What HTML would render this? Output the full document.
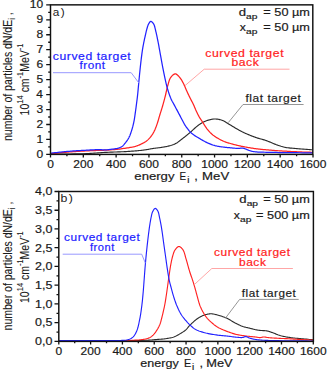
<!DOCTYPE html><html><head><meta charset="utf-8"><style>html,body{margin:0;padding:0;background:#fff;width:329px;height:371px;overflow:hidden}svg{display:block;font-family:"Liberation Sans",sans-serif}</style></head><body><svg width="329" height="371" viewBox="0 0 329 371" font-family="Liberation Sans, sans-serif"><rect width="329" height="371" fill="#fff"/><defs><clipPath id="ca"><rect x="50.5" y="4.85" width="262.3" height="149.55"/></clipPath><clipPath id="cb"><rect x="58.8" y="191.5" width="254.59999999999997" height="149.89999999999998"/></clipPath></defs><g clip-path="url(#ca)"><path d="M50.80,154.20 L51.53,154.19 L53.56,154.18 L56.63,154.15 L60.50,154.11 L64.92,154.05 L69.63,153.99 L74.40,153.91 L78.96,153.82 L83.08,153.72 L86.50,153.60 L88.60,153.50 L90.59,153.39 L92.50,153.27 L94.34,153.14 L96.14,153.01 L97.90,152.88 L99.65,152.74 L101.41,152.62 L103.18,152.50 L105.00,152.40 L106.84,152.31 L108.71,152.23 L110.58,152.16 L112.46,152.10 L114.34,152.04 L116.19,151.98 L118.01,151.92 L119.80,151.85 L121.53,151.78 L123.20,151.70 L124.53,151.63 L125.82,151.56 L127.09,151.49 L128.33,151.41 L129.54,151.33 L130.74,151.25 L131.93,151.17 L133.09,151.09 L134.25,150.99 L135.40,150.90 L136.41,150.81 L137.41,150.73 L138.39,150.64 L139.37,150.55 L140.33,150.45 L141.28,150.35 L142.22,150.25 L143.16,150.14 L144.08,150.02 L145.00,149.90 L145.83,149.78 L146.66,149.64 L147.47,149.50 L148.28,149.35 L149.08,149.20 L149.87,149.05 L150.66,148.90 L151.44,148.76 L152.22,148.62 L153.00,148.50 L153.72,148.40 L154.42,148.30 L155.12,148.21 L155.82,148.13 L156.51,148.05 L157.20,147.97 L157.89,147.88 L158.59,147.80 L159.29,147.70 L160.00,147.60 L160.75,147.49 L161.50,147.38 L162.26,147.27 L163.03,147.16 L163.79,147.04 L164.56,146.92 L165.32,146.79 L166.08,146.64 L166.84,146.48 L167.60,146.30 L168.37,146.11 L169.14,145.91 L169.91,145.71 L170.68,145.50 L171.44,145.27 L172.21,145.03 L172.96,144.76 L173.72,144.47 L174.46,144.15 L175.20,143.80 L175.99,143.38 L176.76,142.91 L177.53,142.41 L178.29,141.87 L179.05,141.32 L179.80,140.74 L180.55,140.16 L181.30,139.57 L182.05,138.98 L182.80,138.40 L183.57,137.81 L184.33,137.21 L185.10,136.60 L185.86,135.99 L186.62,135.37 L187.38,134.74 L188.14,134.11 L188.89,133.48 L189.65,132.84 L190.40,132.20 L191.17,131.54 L191.93,130.85 L192.70,130.14 L193.47,129.43 L194.23,128.73 L194.99,128.03 L195.75,127.35 L196.51,126.69 L197.26,126.08 L198.00,125.50 L198.62,125.04 L199.23,124.60 L199.84,124.18 L200.45,123.78 L201.05,123.39 L201.66,123.02 L202.26,122.66 L202.87,122.32 L203.48,122.00 L204.10,121.70 L204.68,121.43 L205.28,121.18 L205.88,120.95 L206.48,120.73 L207.08,120.53 L207.68,120.34 L208.27,120.16 L208.86,119.99 L209.44,119.84 L210.00,119.70 L210.47,119.59 L210.91,119.48 L211.35,119.38 L211.78,119.28 L212.21,119.20 L212.64,119.13 L213.08,119.08 L213.54,119.03 L214.01,119.01 L214.50,119.00 L215.17,119.01 L215.88,119.05 L216.61,119.11 L217.37,119.19 L218.13,119.30 L218.91,119.43 L219.68,119.59 L220.44,119.77 L221.18,119.97 L221.90,120.20 L222.60,120.46 L223.27,120.76 L223.93,121.10 L224.59,121.45 L225.23,121.83 L225.88,122.23 L226.54,122.64 L227.21,123.06 L227.89,123.48 L228.60,123.90 L229.48,124.42 L230.40,124.98 L231.34,125.55 L232.29,126.15 L233.26,126.76 L234.23,127.36 L235.19,127.95 L236.15,128.53 L237.09,129.08 L238.00,129.60 L238.78,130.03 L239.54,130.44 L240.29,130.83 L241.03,131.21 L241.76,131.59 L242.50,131.95 L243.25,132.31 L244.01,132.67 L244.79,133.03 L245.60,133.40 L246.54,133.82 L247.49,134.23 L248.47,134.65 L249.47,135.06 L250.47,135.47 L251.49,135.88 L252.51,136.27 L253.54,136.66 L254.57,137.04 L255.60,137.40 L256.65,137.75 L257.71,138.08 L258.78,138.39 L259.85,138.69 L260.93,138.99 L262.01,139.29 L263.09,139.59 L264.17,139.91 L265.24,140.24 L266.30,140.60 L267.37,140.99 L268.45,141.42 L269.53,141.86 L270.60,142.32 L271.68,142.78 L272.74,143.24 L273.80,143.69 L274.85,144.12 L275.88,144.53 L276.90,144.90 L277.77,145.20 L278.62,145.50 L279.45,145.78 L280.26,146.05 L281.08,146.31 L281.90,146.55 L282.73,146.78 L283.59,147.00 L284.48,147.21 L285.40,147.40 L286.56,147.61 L287.77,147.78 L289.02,147.93 L290.30,148.07 L291.59,148.18 L292.91,148.29 L294.24,148.39 L295.56,148.49 L296.89,148.59 L298.20,148.70 L299.68,148.83 L301.37,148.97 L303.17,149.12 L305.01,149.26 L306.79,149.40 L308.44,149.53 L309.87,149.64 L311.00,149.72 L311.74,149.78 L312.00,149.80" fill="none" stroke="#2a2a2a" stroke-width="1.15" stroke-linejoin="round" stroke-linecap="round"/><path d="M50.80,153.80 L51.02,153.78 L51.62,153.71 L52.53,153.61 L53.70,153.48 L55.05,153.34 L56.52,153.18 L58.04,153.02 L59.53,152.86 L60.94,152.72 L62.20,152.60 L63.39,152.49 L64.60,152.38 L65.80,152.27 L67.01,152.17 L68.22,152.07 L69.44,151.97 L70.65,151.87 L71.87,151.78 L73.09,151.69 L74.30,151.60 L75.52,151.52 L76.74,151.44 L77.96,151.36 L79.18,151.29 L80.40,151.22 L81.62,151.15 L82.84,151.09 L84.06,151.02 L85.28,150.96 L86.50,150.90 L87.74,150.84 L89.00,150.78 L90.29,150.73 L91.57,150.67 L92.85,150.62 L94.11,150.57 L95.33,150.52 L96.52,150.48 L97.64,150.44 L98.70,150.40 L99.40,150.38 L100.06,150.36 L100.68,150.34 L101.27,150.33 L101.85,150.31 L102.43,150.30 L103.02,150.28 L103.64,150.26 L104.30,150.23 L105.00,150.20 L106.06,150.14 L107.19,150.08 L108.37,150.01 L109.60,149.93 L110.86,149.85 L112.14,149.75 L113.42,149.65 L114.70,149.54 L115.97,149.43 L117.20,149.30 L118.43,149.16 L119.70,149.01 L120.98,148.84 L122.26,148.67 L123.54,148.49 L124.79,148.31 L126.01,148.13 L127.17,147.94 L128.27,147.77 L129.30,147.60 L129.96,147.49 L130.59,147.39 L131.18,147.29 L131.76,147.20 L132.32,147.10 L132.86,147.00 L133.39,146.89 L133.93,146.78 L134.46,146.65 L135.00,146.50 L135.52,146.35 L136.02,146.19 L136.52,146.02 L137.01,145.85 L137.50,145.67 L137.99,145.48 L138.48,145.27 L138.98,145.06 L139.48,144.84 L140.00,144.60 L140.63,144.31 L141.28,144.00 L141.95,143.68 L142.63,143.34 L143.31,142.99 L143.98,142.63 L144.64,142.24 L145.29,141.85 L145.91,141.43 L146.50,141.00 L147.05,140.56 L147.58,140.11 L148.09,139.64 L148.59,139.15 L149.08,138.64 L149.55,138.13 L150.01,137.61 L150.45,137.07 L150.88,136.54 L151.30,136.00 L151.69,135.47 L152.06,134.94 L152.41,134.41 L152.75,133.86 L153.08,133.31 L153.39,132.75 L153.70,132.18 L154.01,131.60 L154.30,131.00 L154.60,130.40 L154.92,129.72 L155.22,129.03 L155.52,128.31 L155.80,127.59 L156.08,126.86 L156.36,126.11 L156.62,125.36 L156.88,124.61 L157.14,123.86 L157.40,123.10 L157.66,122.31 L157.91,121.51 L158.15,120.71 L158.39,119.89 L158.63,119.08 L158.86,118.26 L159.09,117.44 L159.32,116.62 L159.56,115.81 L159.80,115.00 L160.05,114.20 L160.29,113.42 L160.54,112.64 L160.79,111.86 L161.04,111.08 L161.29,110.29 L161.54,109.49 L161.79,108.68 L162.05,107.85 L162.30,107.00 L162.60,105.97 L162.90,104.91 L163.21,103.81 L163.52,102.70 L163.83,101.58 L164.14,100.44 L164.44,99.31 L164.73,98.19 L165.02,97.08 L165.30,96.00 L165.55,95.00 L165.78,94.00 L165.99,93.00 L166.21,92.01 L166.42,91.03 L166.63,90.05 L166.85,89.08 L167.08,88.11 L167.33,87.15 L167.60,86.20 L167.87,85.26 L168.13,84.30 L168.40,83.33 L168.67,82.35 L168.95,81.40 L169.26,80.47 L169.59,79.58 L169.95,78.75 L170.36,77.98 L170.80,77.30 L171.18,76.81 L171.59,76.32 L172.02,75.84 L172.48,75.39 L172.95,74.98 L173.43,74.62 L173.90,74.32 L174.38,74.09 L174.85,73.95 L175.30,73.90 L175.74,73.96 L176.18,74.12 L176.63,74.38 L177.08,74.70 L177.52,75.08 L177.96,75.50 L178.39,75.95 L178.81,76.41 L179.21,76.86 L179.60,77.30 L180.01,77.78 L180.40,78.29 L180.78,78.82 L181.15,79.37 L181.50,79.94 L181.85,80.53 L182.19,81.13 L182.52,81.74 L182.86,82.37 L183.20,83.00 L183.59,83.76 L183.97,84.56 L184.35,85.38 L184.72,86.23 L185.09,87.09 L185.45,87.95 L185.81,88.81 L186.18,89.66 L186.54,90.49 L186.90,91.30 L187.23,92.02 L187.56,92.73 L187.90,93.43 L188.22,94.13 L188.55,94.82 L188.88,95.50 L189.21,96.18 L189.54,96.86 L189.87,97.53 L190.20,98.20 L190.52,98.84 L190.85,99.47 L191.18,100.09 L191.51,100.72 L191.84,101.34 L192.16,101.95 L192.49,102.57 L192.80,103.18 L193.11,103.79 L193.40,104.40 L193.66,104.97 L193.91,105.53 L194.15,106.08 L194.38,106.64 L194.60,107.19 L194.83,107.74 L195.06,108.30 L195.30,108.86 L195.54,109.43 L195.80,110.00 L196.09,110.64 L196.39,111.28 L196.69,111.94 L197.00,112.59 L197.32,113.26 L197.64,113.92 L197.97,114.57 L198.31,115.23 L198.65,115.87 L199.00,116.50 L199.35,117.11 L199.72,117.71 L200.09,118.31 L200.47,118.90 L200.86,119.48 L201.25,120.06 L201.64,120.65 L202.03,121.23 L202.42,121.81 L202.80,122.40 L203.18,122.99 L203.55,123.59 L203.92,124.20 L204.29,124.80 L204.66,125.40 L205.03,126.00 L205.41,126.59 L205.80,127.17 L206.19,127.74 L206.60,128.30 L207.00,128.83 L207.42,129.35 L207.84,129.87 L208.26,130.38 L208.69,130.88 L209.13,131.37 L209.57,131.85 L210.01,132.32 L210.46,132.77 L210.90,133.20 L211.29,133.57 L211.68,133.93 L212.06,134.26 L212.45,134.59 L212.83,134.91 L213.23,135.23 L213.64,135.54 L214.07,135.85 L214.52,136.17 L215.00,136.50 L215.67,136.94 L216.38,137.40 L217.13,137.87 L217.91,138.33 L218.71,138.80 L219.53,139.26 L220.36,139.70 L221.18,140.13 L222.00,140.53 L222.80,140.90 L223.55,141.22 L224.31,141.53 L225.06,141.81 L225.82,142.08 L226.58,142.33 L227.34,142.58 L228.11,142.81 L228.87,143.04 L229.64,143.27 L230.40,143.50 L231.16,143.73 L231.92,143.94 L232.68,144.16 L233.44,144.36 L234.20,144.56 L234.96,144.76 L235.73,144.95 L236.49,145.14 L237.24,145.32 L238.00,145.50 L238.73,145.67 L239.45,145.83 L240.16,145.98 L240.87,146.13 L241.58,146.28 L242.29,146.43 L243.02,146.57 L243.76,146.71 L244.52,146.85 L245.30,147.00 L246.26,147.18 L247.24,147.36 L248.25,147.54 L249.28,147.72 L250.32,147.89 L251.38,148.07 L252.44,148.24 L253.50,148.40 L254.55,148.56 L255.60,148.70 L256.66,148.84 L257.73,148.96 L258.81,149.08 L259.89,149.20 L260.97,149.31 L262.05,149.41 L263.12,149.51 L264.19,149.61 L265.25,149.70 L266.30,149.80 L267.28,149.89 L268.26,149.98 L269.22,150.06 L270.17,150.14 L271.12,150.22 L272.08,150.30 L273.04,150.38 L274.01,150.45 L275.00,150.53 L276.00,150.60 L277.12,150.68 L278.25,150.75 L279.39,150.83 L280.55,150.90 L281.71,150.97 L282.88,151.04 L284.06,151.10 L285.24,151.17 L286.42,151.24 L287.60,151.30 L288.82,151.37 L290.06,151.43 L291.30,151.50 L292.54,151.56 L293.79,151.62 L295.03,151.68 L296.28,151.74 L297.53,151.79 L298.77,151.85 L300.00,151.90 L301.32,151.95 L302.80,152.00 L304.37,152.06 L305.97,152.11 L307.51,152.16 L308.94,152.21 L310.17,152.24 L311.14,152.27 L311.77,152.29 L312.00,152.30" fill="none" stroke="#ff2222" stroke-width="1.25" stroke-linejoin="round" stroke-linecap="round"/><path d="M50.80,153.20 L51.02,153.17 L51.62,153.10 L52.53,152.99 L53.70,152.85 L55.05,152.69 L56.52,152.52 L58.04,152.35 L59.53,152.18 L60.94,152.03 L62.20,151.90 L63.39,151.78 L64.59,151.67 L65.80,151.57 L67.01,151.46 L68.22,151.36 L69.44,151.26 L70.65,151.17 L71.87,151.08 L73.09,150.99 L74.30,150.90 L75.52,150.82 L76.74,150.74 L77.96,150.66 L79.18,150.59 L80.40,150.52 L81.62,150.46 L82.84,150.39 L84.06,150.33 L85.28,150.26 L86.50,150.20 L87.74,150.13 L89.00,150.05 L90.29,149.98 L91.57,149.90 L92.85,149.82 L94.11,149.75 L95.33,149.69 L96.52,149.64 L97.64,149.61 L98.70,149.60 L99.41,149.61 L100.09,149.64 L100.75,149.67 L101.37,149.72 L101.99,149.77 L102.59,149.82 L103.18,149.86 L103.78,149.89 L104.38,149.90 L105.00,149.90 L105.61,149.88 L106.22,149.84 L106.82,149.80 L107.42,149.75 L108.02,149.68 L108.63,149.62 L109.24,149.54 L109.85,149.46 L110.47,149.38 L111.10,149.30 L111.82,149.21 L112.56,149.12 L113.32,149.03 L114.09,148.93 L114.87,148.83 L115.63,148.71 L116.37,148.58 L117.09,148.44 L117.77,148.28 L118.40,148.10 L118.85,147.95 L119.29,147.79 L119.71,147.63 L120.12,147.46 L120.51,147.28 L120.89,147.08 L121.26,146.88 L121.61,146.67 L121.96,146.44 L122.30,146.20 L122.61,145.96 L122.90,145.71 L123.18,145.44 L123.44,145.17 L123.70,144.88 L123.96,144.59 L124.21,144.28 L124.46,143.97 L124.73,143.64 L125.00,143.30 L125.36,142.85 L125.74,142.38 L126.12,141.88 L126.51,141.37 L126.90,140.84 L127.28,140.30 L127.66,139.74 L128.02,139.17 L128.37,138.59 L128.70,138.00 L129.04,137.33 L129.37,136.64 L129.69,135.92 L129.99,135.20 L130.27,134.45 L130.55,133.70 L130.82,132.93 L131.09,132.16 L131.35,131.38 L131.60,130.60 L131.87,129.75 L132.13,128.88 L132.38,128.00 L132.62,127.11 L132.86,126.22 L133.08,125.31 L133.30,124.41 L133.51,123.50 L133.71,122.60 L133.90,121.70 L134.08,120.81 L134.24,119.93 L134.39,119.04 L134.53,118.15 L134.67,117.26 L134.80,116.37 L134.92,115.47 L135.05,114.58 L135.17,113.69 L135.30,112.80 L135.43,111.91 L135.55,111.02 L135.68,110.13 L135.80,109.24 L135.92,108.35 L136.04,107.46 L136.15,106.57 L136.27,105.68 L136.38,104.79 L136.50,103.90 L136.61,103.01 L136.73,102.13 L136.84,101.25 L136.96,100.38 L137.07,99.50 L137.18,98.61 L137.29,97.73 L137.39,96.83 L137.50,95.92 L137.60,95.00 L137.71,93.99 L137.81,92.97 L137.91,91.94 L138.01,90.91 L138.11,89.86 L138.20,88.81 L138.30,87.74 L138.40,86.67 L138.50,85.59 L138.60,84.50 L138.72,83.29 L138.83,82.06 L138.95,80.80 L139.07,79.54 L139.19,78.27 L139.31,76.99 L139.43,75.73 L139.55,74.47 L139.68,73.22 L139.80,72.00 L139.92,70.87 L140.03,69.75 L140.15,68.63 L140.27,67.52 L140.39,66.42 L140.50,65.33 L140.63,64.24 L140.75,63.15 L140.87,62.08 L141.00,61.00 L141.12,59.97 L141.25,58.95 L141.37,57.92 L141.50,56.89 L141.63,55.88 L141.76,54.87 L141.89,53.88 L142.02,52.90 L142.16,51.94 L142.30,51.00 L142.42,50.21 L142.54,49.43 L142.67,48.68 L142.79,47.93 L142.92,47.19 L143.05,46.46 L143.18,45.73 L143.32,45.00 L143.46,44.25 L143.60,43.50 L143.75,42.71 L143.92,41.91 L144.08,41.10 L144.25,40.29 L144.42,39.48 L144.59,38.67 L144.77,37.87 L144.95,37.07 L145.12,36.28 L145.30,35.50 L145.46,34.77 L145.63,34.04 L145.79,33.31 L145.96,32.59 L146.13,31.87 L146.29,31.16 L146.47,30.47 L146.64,29.79 L146.82,29.13 L147.00,28.50 L147.15,28.00 L147.29,27.51 L147.43,27.02 L147.57,26.55 L147.72,26.09 L147.87,25.64 L148.03,25.20 L148.21,24.78 L148.39,24.38 L148.60,24.00 L148.79,23.67 L148.98,23.33 L149.19,22.99 L149.40,22.65 L149.62,22.33 L149.85,22.04 L150.08,21.79 L150.32,21.59 L150.56,21.46 L150.80,21.40 L151.06,21.42 L151.34,21.52 L151.64,21.69 L151.93,21.91 L152.23,22.18 L152.53,22.49 L152.82,22.82 L153.10,23.17 L153.36,23.54 L153.60,23.90 L153.91,24.45 L154.18,25.08 L154.43,25.77 L154.65,26.50 L154.86,27.28 L155.05,28.08 L155.24,28.89 L155.42,29.70 L155.61,30.51 L155.80,31.30 L156.01,32.13 L156.21,32.95 L156.40,33.78 L156.58,34.61 L156.77,35.45 L156.95,36.31 L157.13,37.19 L157.31,38.09 L157.50,39.03 L157.70,40.00 L157.97,41.34 L158.24,42.75 L158.51,44.22 L158.80,45.74 L159.08,47.29 L159.36,48.86 L159.65,50.44 L159.93,52.01 L160.22,53.57 L160.50,55.10 L160.78,56.61 L161.05,58.11 L161.32,59.60 L161.58,61.10 L161.85,62.59 L162.13,64.10 L162.41,65.61 L162.69,67.12 L162.99,68.65 L163.30,70.20 L163.64,71.89 L163.99,73.62 L164.35,75.37 L164.72,77.15 L165.09,78.92 L165.48,80.68 L165.87,82.41 L166.27,84.10 L166.68,85.74 L167.10,87.30 L167.45,88.55 L167.81,89.77 L168.17,90.97 L168.54,92.15 L168.91,93.30 L169.29,94.42 L169.68,95.51 L170.08,96.57 L170.48,97.60 L170.90,98.60 L171.25,99.38 L171.60,100.11 L171.95,100.81 L172.31,101.49 L172.68,102.15 L173.05,102.81 L173.43,103.48 L173.81,104.16 L174.20,104.86 L174.60,105.60 L175.08,106.51 L175.58,107.46 L176.09,108.42 L176.61,109.40 L177.14,110.40 L177.68,111.41 L178.21,112.41 L178.74,113.42 L179.28,114.42 L179.80,115.40 L180.32,116.39 L180.86,117.42 L181.40,118.46 L181.94,119.51 L182.48,120.55 L183.01,121.56 L183.53,122.54 L184.04,123.46 L184.53,124.32 L185.00,125.10 L185.29,125.56 L185.57,125.99 L185.84,126.40 L186.11,126.78 L186.37,127.15 L186.63,127.51 L186.90,127.85 L187.16,128.20 L187.43,128.55 L187.70,128.90 L187.96,129.24 L188.22,129.57 L188.48,129.90 L188.75,130.23 L189.01,130.56 L189.28,130.87 L189.55,131.19 L189.83,131.50 L190.11,131.80 L190.40,132.10 L190.70,132.39 L191.00,132.68 L191.30,132.95 L191.61,133.23 L191.93,133.50 L192.25,133.76 L192.57,134.02 L192.91,134.28 L193.25,134.54 L193.60,134.80 L193.99,135.08 L194.40,135.36 L194.81,135.63 L195.24,135.89 L195.67,136.16 L196.10,136.42 L196.55,136.69 L196.99,136.95 L197.44,137.22 L197.90,137.50 L198.41,137.81 L198.94,138.13 L199.47,138.46 L200.01,138.79 L200.55,139.12 L201.10,139.44 L201.65,139.77 L202.20,140.09 L202.75,140.40 L203.30,140.70 L203.83,140.99 L204.36,141.28 L204.89,141.56 L205.42,141.84 L205.96,142.11 L206.49,142.38 L207.03,142.65 L207.58,142.90 L208.14,143.16 L208.70,143.40 L209.30,143.65 L209.91,143.90 L210.52,144.14 L211.13,144.37 L211.76,144.60 L212.39,144.81 L213.03,145.03 L213.68,145.23 L214.33,145.42 L215.00,145.60 L215.74,145.78 L216.50,145.96 L217.27,146.12 L218.05,146.26 L218.84,146.40 L219.64,146.53 L220.43,146.66 L221.23,146.77 L222.02,146.89 L222.80,147.00 L223.56,147.10 L224.32,147.20 L225.08,147.29 L225.84,147.37 L226.60,147.45 L227.36,147.52 L228.12,147.59 L228.88,147.66 L229.64,147.73 L230.40,147.80 L231.17,147.87 L231.95,147.95 L232.74,148.03 L233.53,148.11 L234.32,148.18 L235.10,148.25 L235.86,148.31 L236.60,148.35 L237.32,148.39 L238.00,148.40 L238.51,148.39 L239.01,148.36 L239.50,148.31 L239.97,148.26 L240.44,148.20 L240.89,148.14 L241.33,148.10 L241.77,148.07 L242.19,148.07 L242.60,148.10 L242.93,148.15 L243.24,148.21 L243.54,148.28 L243.84,148.37 L244.13,148.46 L244.42,148.56 L244.70,148.67 L244.99,148.78 L245.29,148.89 L245.60,149.00 L245.96,149.13 L246.31,149.27 L246.68,149.43 L247.04,149.58 L247.41,149.75 L247.78,149.91 L248.16,150.07 L248.53,150.22 L248.92,150.37 L249.30,150.50 L249.70,150.63 L250.08,150.76 L250.46,150.88 L250.84,151.00 L251.23,151.11 L251.63,151.22 L252.05,151.32 L252.50,151.42 L252.98,151.51 L253.50,151.60 L254.48,151.73 L255.56,151.84 L256.72,151.93 L257.96,152.01 L259.26,152.07 L260.61,152.12 L262.00,152.17 L263.42,152.21 L264.86,152.25 L266.30,152.30 L268.20,152.36 L270.19,152.40 L272.25,152.44 L274.36,152.47 L276.52,152.49 L278.72,152.51 L280.93,152.53 L283.16,152.55 L285.39,152.57 L287.60,152.60 L290.19,152.63 L293.15,152.67 L296.34,152.71 L299.58,152.75 L302.75,152.79 L305.67,152.82 L308.21,152.85 L310.22,152.88 L311.53,152.89 L312.00,152.90" fill="none" stroke="#2222ff" stroke-width="1.25" stroke-linejoin="round" stroke-linecap="round"/></g><g clip-path="url(#cb)"><path d="M59.30,341.10 L61.30,341.10 L66.79,341.08 L75.01,341.05 L85.22,341.01 L96.65,340.94 L108.55,340.86 L120.18,340.76 L130.76,340.63 L139.55,340.48 L145.80,340.30 L147.49,340.22 L149.01,340.14 L150.38,340.05 L151.64,339.96 L152.81,339.86 L153.90,339.77 L154.94,339.67 L155.95,339.58 L156.97,339.49 L158.00,339.40 L158.78,339.34 L159.51,339.29 L160.22,339.24 L160.90,339.20 L161.58,339.15 L162.24,339.10 L162.91,339.05 L163.58,338.98 L164.28,338.90 L165.00,338.80 L165.85,338.68 L166.74,338.54 L167.65,338.40 L168.58,338.24 L169.50,338.07 L170.42,337.89 L171.32,337.69 L172.19,337.48 L173.02,337.25 L173.80,337.00 L174.39,336.79 L174.94,336.56 L175.47,336.33 L175.98,336.09 L176.48,335.83 L176.97,335.57 L177.46,335.29 L177.96,335.01 L178.47,334.71 L179.00,334.40 L179.65,334.02 L180.31,333.63 L181.00,333.22 L181.69,332.79 L182.38,332.35 L183.06,331.90 L183.74,331.44 L184.39,330.96 L185.01,330.48 L185.60,330.00 L186.09,329.55 L186.55,329.10 L186.99,328.63 L187.40,328.16 L187.81,327.68 L188.21,327.19 L188.62,326.70 L189.05,326.20 L189.51,325.70 L190.00,325.20 L190.64,324.57 L191.31,323.90 L192.01,323.22 L192.73,322.53 L193.47,321.83 L194.23,321.15 L194.99,320.48 L195.76,319.85 L196.53,319.25 L197.30,318.70 L198.01,318.23 L198.72,317.78 L199.45,317.35 L200.18,316.95 L200.92,316.56 L201.66,316.20 L202.40,315.86 L203.14,315.55 L203.87,315.26 L204.60,315.00 L205.24,314.79 L205.89,314.59 L206.53,314.42 L207.17,314.26 L207.81,314.13 L208.45,314.01 L209.08,313.92 L209.72,313.85 L210.36,313.81 L211.00,313.80 L211.64,313.82 L212.26,313.87 L212.89,313.95 L213.51,314.05 L214.14,314.17 L214.77,314.32 L215.41,314.47 L216.06,314.64 L216.72,314.82 L217.40,315.00 L218.25,315.23 L219.13,315.48 L220.03,315.74 L220.95,316.03 L221.88,316.33 L222.82,316.65 L223.75,316.98 L224.68,317.34 L225.60,317.71 L226.50,318.10 L227.43,318.54 L228.36,319.02 L229.28,319.53 L230.21,320.07 L231.13,320.62 L232.04,321.17 L232.94,321.71 L233.84,322.24 L234.72,322.74 L235.60,323.20 L236.35,323.58 L237.10,323.95 L237.83,324.32 L238.56,324.67 L239.28,325.01 L240.00,325.34 L240.72,325.65 L241.44,325.95 L242.17,326.23 L242.90,326.50 L243.61,326.73 L244.33,326.95 L245.05,327.14 L245.77,327.33 L246.50,327.50 L247.21,327.66 L247.93,327.82 L248.63,327.98 L249.32,328.14 L250.00,328.30 L250.59,328.45 L251.17,328.60 L251.75,328.75 L252.32,328.90 L252.88,329.05 L253.44,329.20 L253.99,329.33 L254.53,329.46 L255.07,329.59 L255.60,329.70 L256.05,329.79 L256.49,329.87 L256.92,329.95 L257.34,330.03 L257.76,330.09 L258.18,330.16 L258.61,330.22 L259.06,330.28 L259.52,330.34 L260.00,330.40 L260.66,330.47 L261.36,330.52 L262.09,330.56 L262.84,330.59 L263.61,330.63 L264.38,330.67 L265.14,330.72 L265.89,330.79 L266.61,330.88 L267.30,331.00 L267.88,331.13 L268.45,331.28 L269.00,331.44 L269.53,331.61 L270.06,331.79 L270.59,331.99 L271.13,332.19 L271.67,332.39 L272.22,332.59 L272.80,332.80 L273.49,333.05 L274.18,333.31 L274.89,333.59 L275.60,333.88 L276.33,334.17 L277.06,334.45 L277.81,334.74 L278.56,335.01 L279.33,335.26 L280.10,335.50 L280.96,335.74 L281.83,335.96 L282.72,336.17 L283.61,336.38 L284.52,336.57 L285.44,336.75 L286.37,336.92 L287.30,337.09 L288.25,337.25 L289.20,337.40 L290.24,337.56 L291.30,337.70 L292.36,337.83 L293.44,337.95 L294.53,338.07 L295.63,338.18 L296.73,338.28 L297.85,338.39 L298.97,338.49 L300.10,338.60 L301.45,338.73 L303.00,338.87 L304.67,339.01 L306.37,339.16 L308.03,339.30 L309.57,339.43 L310.91,339.54 L311.96,339.62 L312.65,339.68 L312.90,339.70" fill="none" stroke="#2a2a2a" stroke-width="1.1" stroke-linejoin="round" stroke-linecap="round"/><path d="M59.30,341.00 L60.98,341.00 L65.60,340.98 L72.51,340.96 L81.10,340.92 L90.72,340.86 L100.75,340.79 L110.54,340.70 L119.47,340.59 L126.90,340.46 L132.20,340.30 L133.66,340.24 L134.98,340.18 L136.17,340.13 L137.27,340.07 L138.28,340.01 L139.23,339.94 L140.14,339.85 L141.02,339.76 L141.90,339.64 L142.80,339.50 L143.50,339.38 L144.18,339.26 L144.84,339.14 L145.49,339.00 L146.11,338.86 L146.72,338.70 L147.32,338.53 L147.89,338.34 L148.45,338.13 L149.00,337.90 L149.46,337.68 L149.91,337.45 L150.34,337.21 L150.76,336.95 L151.17,336.68 L151.56,336.40 L151.95,336.10 L152.34,335.79 L152.72,335.45 L153.10,335.10 L153.54,334.66 L153.97,334.19 L154.39,333.69 L154.81,333.16 L155.22,332.62 L155.61,332.06 L156.00,331.50 L156.38,330.93 L156.75,330.36 L157.10,329.80 L157.44,329.25 L157.77,328.69 L158.08,328.13 L158.39,327.56 L158.69,326.99 L158.98,326.42 L159.25,325.84 L159.52,325.26 L159.77,324.68 L160.00,324.10 L160.21,323.55 L160.39,323.00 L160.57,322.45 L160.73,321.89 L160.88,321.34 L161.02,320.78 L161.16,320.22 L161.30,319.65 L161.45,319.08 L161.60,318.50 L161.77,317.87 L161.93,317.24 L162.09,316.61 L162.25,315.97 L162.41,315.33 L162.57,314.68 L162.73,314.02 L162.89,313.35 L163.04,312.68 L163.20,312.00 L163.37,311.24 L163.55,310.47 L163.72,309.69 L163.90,308.91 L164.07,308.11 L164.24,307.31 L164.41,306.50 L164.58,305.67 L164.74,304.84 L164.90,304.00 L165.07,303.05 L165.24,302.07 L165.41,301.09 L165.57,300.08 L165.73,299.07 L165.89,298.06 L166.04,297.04 L166.20,296.02 L166.35,295.01 L166.50,294.00 L166.65,293.00 L166.79,292.00 L166.93,291.00 L167.07,290.00 L167.21,289.00 L167.35,288.00 L167.49,287.00 L167.62,286.00 L167.76,285.00 L167.90,284.00 L168.04,283.00 L168.18,282.00 L168.31,281.00 L168.45,280.00 L168.59,279.00 L168.73,278.00 L168.87,277.00 L169.01,276.00 L169.15,275.00 L169.30,274.00 L169.45,272.99 L169.60,271.98 L169.75,270.96 L169.91,269.94 L170.06,268.93 L170.22,267.92 L170.38,266.91 L170.55,265.93 L170.72,264.95 L170.90,264.00 L171.06,263.16 L171.22,262.32 L171.39,261.49 L171.55,260.67 L171.73,259.86 L171.90,259.06 L172.09,258.27 L172.28,257.50 L172.48,256.74 L172.70,256.00 L172.89,255.35 L173.08,254.70 L173.27,254.06 L173.47,253.42 L173.68,252.80 L173.90,252.19 L174.13,251.60 L174.39,251.04 L174.68,250.51 L175.00,250.00 L175.32,249.55 L175.67,249.08 L176.04,248.60 L176.43,248.14 L176.83,247.71 L177.25,247.32 L177.66,246.99 L178.08,246.74 L178.50,246.57 L178.90,246.50 L179.30,246.54 L179.71,246.67 L180.13,246.88 L180.56,247.16 L180.98,247.50 L181.39,247.88 L181.80,248.31 L182.19,248.76 L182.56,249.23 L182.90,249.70 L183.34,250.42 L183.74,251.24 L184.10,252.14 L184.43,253.10 L184.74,254.12 L185.03,255.17 L185.32,256.24 L185.60,257.31 L185.89,258.37 L186.20,259.40 L186.53,260.50 L186.86,261.61 L187.18,262.75 L187.49,263.89 L187.80,265.05 L188.11,266.20 L188.43,267.35 L188.74,268.48 L189.07,269.60 L189.40,270.70 L189.72,271.72 L190.05,272.72 L190.39,273.73 L190.73,274.72 L191.07,275.71 L191.41,276.69 L191.75,277.65 L192.08,278.61 L192.40,279.56 L192.70,280.50 L192.96,281.33 L193.22,282.15 L193.47,282.95 L193.71,283.75 L193.95,284.54 L194.18,285.33 L194.41,286.12 L194.64,286.91 L194.87,287.70 L195.10,288.50 L195.33,289.31 L195.55,290.11 L195.77,290.92 L195.98,291.72 L196.20,292.53 L196.41,293.34 L196.63,294.15 L196.85,294.96 L197.07,295.78 L197.30,296.60 L197.54,297.46 L197.77,298.32 L198.00,299.20 L198.23,300.08 L198.47,300.96 L198.71,301.84 L198.97,302.70 L199.23,303.55 L199.51,304.39 L199.80,305.20 L200.08,305.93 L200.37,306.64 L200.68,307.35 L200.99,308.04 L201.31,308.73 L201.63,309.40 L201.97,310.07 L202.31,310.72 L202.65,311.37 L203.00,312.00 L203.33,312.58 L203.66,313.15 L203.99,313.71 L204.33,314.27 L204.67,314.82 L205.02,315.35 L205.38,315.88 L205.74,316.40 L206.12,316.90 L206.50,317.40 L206.87,317.86 L207.23,318.29 L207.61,318.72 L207.98,319.14 L208.37,319.55 L208.76,319.95 L209.17,320.36 L209.60,320.76 L210.04,321.18 L210.50,321.60 L211.10,322.14 L211.72,322.69 L212.37,323.25 L213.04,323.81 L213.73,324.38 L214.44,324.94 L215.16,325.48 L215.90,326.01 L216.65,326.52 L217.40,327.00 L218.20,327.47 L219.02,327.92 L219.86,328.35 L220.72,328.76 L221.59,329.16 L222.46,329.54 L223.35,329.92 L224.23,330.28 L225.12,330.64 L226.00,331.00 L226.90,331.36 L227.83,331.71 L228.78,332.06 L229.73,332.41 L230.68,332.74 L231.62,333.06 L232.53,333.35 L233.40,333.63 L234.23,333.88 L235.00,334.10 L235.47,334.23 L235.92,334.34 L236.33,334.44 L236.73,334.53 L237.12,334.61 L237.51,334.69 L237.90,334.76 L238.31,334.84 L238.74,334.92 L239.20,335.00 L239.84,335.11 L240.52,335.23 L241.21,335.35 L241.93,335.46 L242.67,335.57 L243.42,335.68 L244.18,335.79 L244.95,335.90 L245.73,336.00 L246.50,336.10 L247.38,336.20 L248.31,336.30 L249.26,336.40 L250.22,336.49 L251.19,336.57 L252.15,336.66 L253.08,336.74 L253.97,336.83 L254.82,336.91 L255.60,337.00 L256.11,337.07 L256.59,337.14 L257.05,337.22 L257.50,337.31 L257.93,337.38 L258.35,337.46 L258.76,337.52 L259.17,337.57 L259.59,337.59 L260.00,337.60 L260.37,337.58 L260.73,337.53 L261.08,337.47 L261.43,337.39 L261.77,337.30 L262.12,337.22 L262.47,337.14 L262.84,337.07 L263.21,337.02 L263.60,337.00 L264.10,337.01 L264.60,337.04 L265.12,337.10 L265.65,337.18 L266.19,337.26 L266.74,337.36 L267.31,337.45 L267.89,337.55 L268.49,337.63 L269.10,337.70 L269.91,337.77 L270.76,337.84 L271.63,337.91 L272.53,337.97 L273.45,338.03 L274.39,338.09 L275.33,338.14 L276.29,338.19 L277.24,338.25 L278.20,338.30 L279.26,338.36 L280.33,338.41 L281.42,338.46 L282.53,338.50 L283.64,338.55 L284.75,338.59 L285.87,338.64 L286.99,338.69 L288.10,338.74 L289.20,338.80 L290.29,338.86 L291.37,338.93 L292.45,339.00 L293.52,339.07 L294.60,339.15 L295.68,339.22 L296.77,339.29 L297.86,339.37 L298.97,339.43 L300.10,339.50 L301.45,339.57 L303.00,339.65 L304.67,339.73 L306.37,339.81 L308.03,339.89 L309.57,339.95 L310.91,340.01 L311.96,340.06 L312.65,340.09 L312.90,340.10" fill="none" stroke="#ff2222" stroke-width="1.15" stroke-linejoin="round" stroke-linecap="round"/><path d="M59.30,340.60 L60.14,340.60 L62.46,340.59 L65.98,340.58 L70.41,340.57 L75.46,340.56 L80.84,340.54 L86.28,340.53 L91.47,340.52 L96.14,340.51 L100.00,340.50 L102.33,340.50 L104.60,340.52 L106.82,340.54 L108.96,340.56 L111.03,340.58 L113.02,340.60 L114.92,340.60 L116.72,340.59 L118.42,340.56 L120.00,340.50 L120.91,340.46 L121.78,340.43 L122.60,340.41 L123.38,340.38 L124.13,340.34 L124.86,340.29 L125.56,340.21 L126.25,340.11 L126.93,339.97 L127.60,339.80 L128.19,339.62 L128.77,339.43 L129.34,339.22 L129.90,338.99 L130.44,338.74 L130.97,338.47 L131.48,338.17 L131.97,337.84 L132.45,337.49 L132.90,337.10 L133.37,336.63 L133.82,336.13 L134.24,335.59 L134.63,335.02 L135.01,334.42 L135.37,333.79 L135.72,333.13 L136.05,332.44 L136.38,331.73 L136.70,331.00 L137.10,329.98 L137.48,328.89 L137.82,327.74 L138.15,326.54 L138.45,325.30 L138.74,324.03 L139.02,322.75 L139.28,321.46 L139.54,320.17 L139.80,318.90 L140.06,317.55 L140.31,316.18 L140.54,314.80 L140.76,313.40 L140.97,311.99 L141.17,310.58 L141.36,309.17 L141.55,307.77 L141.73,306.38 L141.90,305.00 L142.06,303.68 L142.21,302.38 L142.35,301.07 L142.49,299.77 L142.61,298.48 L142.74,297.18 L142.85,295.89 L142.97,294.59 L143.09,293.30 L143.20,292.00 L143.31,290.70 L143.42,289.40 L143.52,288.10 L143.62,286.80 L143.72,285.50 L143.81,284.20 L143.91,282.90 L144.00,281.60 L144.10,280.30 L144.20,279.00 L144.30,277.70 L144.40,276.39 L144.50,275.08 L144.59,273.77 L144.69,272.47 L144.79,271.16 L144.89,269.86 L144.99,268.57 L145.09,267.28 L145.20,266.00 L145.30,264.78 L145.41,263.55 L145.52,262.34 L145.63,261.12 L145.74,259.92 L145.85,258.71 L145.96,257.52 L146.07,256.34 L146.19,255.16 L146.30,254.00 L146.41,252.93 L146.51,251.87 L146.62,250.82 L146.73,249.78 L146.84,248.74 L146.95,247.71 L147.06,246.68 L147.17,245.66 L147.28,244.63 L147.40,243.60 L147.51,242.58 L147.63,241.56 L147.75,240.53 L147.87,239.51 L147.99,238.49 L148.11,237.48 L148.23,236.47 L148.35,235.47 L148.48,234.48 L148.60,233.50 L148.72,232.60 L148.83,231.71 L148.95,230.82 L149.06,229.93 L149.18,229.06 L149.30,228.19 L149.42,227.33 L149.54,226.48 L149.67,225.64 L149.80,224.80 L149.92,224.04 L150.04,223.28 L150.16,222.53 L150.29,221.79 L150.41,221.05 L150.54,220.32 L150.67,219.60 L150.81,218.89 L150.95,218.19 L151.10,217.50 L151.23,216.89 L151.35,216.28 L151.47,215.68 L151.60,215.08 L151.73,214.49 L151.86,213.91 L152.02,213.35 L152.19,212.81 L152.38,212.29 L152.60,211.80 L152.81,211.38 L153.04,210.93 L153.28,210.48 L153.54,210.03 L153.81,209.61 L154.09,209.23 L154.37,208.90 L154.65,208.65 L154.93,208.47 L155.20,208.40 L155.46,208.43 L155.73,208.53 L156.00,208.71 L156.28,208.95 L156.56,209.23 L156.83,209.55 L157.09,209.90 L157.35,210.27 L157.58,210.64 L157.80,211.00 L158.07,211.53 L158.30,212.12 L158.50,212.75 L158.69,213.43 L158.85,214.14 L159.01,214.87 L159.15,215.61 L159.30,216.35 L159.44,217.09 L159.60,217.80 L159.77,218.54 L159.93,219.29 L160.09,220.04 L160.24,220.80 L160.39,221.57 L160.54,222.34 L160.68,223.10 L160.83,223.87 L160.96,224.64 L161.10,225.40 L161.23,226.15 L161.36,226.90 L161.48,227.63 L161.60,228.37 L161.72,229.11 L161.83,229.86 L161.95,230.62 L162.06,231.39 L162.18,232.18 L162.30,233.00 L162.45,234.02 L162.59,235.06 L162.74,236.13 L162.89,237.23 L163.04,238.34 L163.19,239.47 L163.34,240.60 L163.49,241.74 L163.64,242.87 L163.80,244.00 L163.96,245.17 L164.13,246.35 L164.30,247.53 L164.46,248.72 L164.63,249.91 L164.80,251.11 L164.98,252.32 L165.15,253.53 L165.32,254.76 L165.50,256.00 L165.69,257.37 L165.89,258.76 L166.09,260.18 L166.28,261.62 L166.48,263.06 L166.69,264.49 L166.89,265.92 L167.09,267.31 L167.30,268.68 L167.50,270.00 L167.67,271.12 L167.85,272.22 L168.02,273.31 L168.19,274.38 L168.36,275.44 L168.53,276.48 L168.71,277.50 L168.90,278.52 L169.10,279.52 L169.30,280.50 L169.49,281.36 L169.69,282.20 L169.89,283.02 L170.10,283.83 L170.32,284.64 L170.53,285.43 L170.75,286.23 L170.97,287.02 L171.19,287.81 L171.40,288.60 L171.60,289.37 L171.80,290.13 L172.00,290.88 L172.20,291.62 L172.40,292.37 L172.60,293.12 L172.81,293.88 L173.03,294.64 L173.26,295.41 L173.50,296.20 L173.78,297.10 L174.08,298.03 L174.38,298.96 L174.69,299.91 L175.01,300.86 L175.34,301.81 L175.69,302.77 L176.04,303.72 L176.41,304.67 L176.80,305.60 L177.21,306.56 L177.63,307.53 L178.07,308.50 L178.52,309.48 L178.99,310.44 L179.46,311.40 L179.95,312.34 L180.46,313.25 L180.97,314.14 L181.50,315.00 L182.00,315.76 L182.53,316.51 L183.08,317.25 L183.64,317.97 L184.21,318.67 L184.78,319.36 L185.34,320.01 L185.88,320.64 L186.41,321.24 L186.90,321.80 L187.23,322.18 L187.54,322.53 L187.84,322.85 L188.13,323.17 L188.42,323.47 L188.71,323.77 L189.01,324.06 L189.32,324.37 L189.65,324.68 L190.00,325.00 L190.47,325.43 L190.95,325.88 L191.45,326.34 L191.97,326.80 L192.51,327.26 L193.06,327.72 L193.64,328.17 L194.24,328.61 L194.86,329.02 L195.50,329.40 L196.29,329.82 L197.11,330.21 L197.96,330.57 L198.85,330.92 L199.76,331.25 L200.69,331.56 L201.65,331.86 L202.62,332.15 L203.60,332.43 L204.60,332.70 L205.79,333.01 L207.04,333.30 L208.33,333.58 L209.65,333.84 L210.98,334.09 L212.32,334.32 L213.64,334.53 L214.94,334.74 L216.19,334.93 L217.40,335.10 L218.37,335.23 L219.30,335.34 L220.21,335.44 L221.11,335.52 L221.99,335.60 L222.87,335.67 L223.76,335.74 L224.65,335.82 L225.56,335.90 L226.50,336.00 L227.57,336.12 L228.68,336.26 L229.82,336.40 L230.98,336.55 L232.14,336.70 L233.28,336.85 L234.39,336.99 L235.46,337.11 L236.47,337.22 L237.40,337.30 L238.00,337.35 L238.58,337.40 L239.15,337.45 L239.69,337.49 L240.21,337.53 L240.72,337.56 L241.21,337.57 L241.69,337.57 L242.15,337.54 L242.60,337.50 L242.93,337.44 L243.25,337.35 L243.55,337.24 L243.84,337.11 L244.12,336.98 L244.40,336.86 L244.69,336.75 L244.98,336.67 L245.28,336.61 L245.60,336.60 L246.01,336.64 L246.42,336.74 L246.85,336.88 L247.28,337.05 L247.73,337.24 L248.18,337.45 L248.63,337.66 L249.08,337.86 L249.54,338.04 L250.00,338.20 L250.48,338.34 L250.97,338.48 L251.45,338.61 L251.94,338.74 L252.44,338.86 L252.94,338.98 L253.45,339.09 L253.96,339.20 L254.48,339.30 L255.00,339.40 L255.58,339.50 L256.16,339.59 L256.74,339.67 L257.34,339.74 L257.94,339.81 L258.54,339.87 L259.16,339.93 L259.79,339.99 L260.44,340.05 L261.10,340.10 L261.89,340.16 L262.66,340.21 L263.44,340.26 L264.22,340.30 L265.03,340.34 L265.88,340.37 L266.79,340.40 L267.77,340.43 L268.83,340.47 L270.00,340.50 L273.38,340.58 L277.90,340.65 L283.21,340.72 L288.97,340.79 L294.80,340.84 L300.38,340.90 L305.32,340.94 L309.30,340.97 L311.94,340.99 L312.90,341.00" fill="none" stroke="#2222ff" stroke-width="1.15" stroke-linejoin="round" stroke-linecap="round"/></g><g stroke="#1a1a1a" stroke-width="0.18"><path d="M46.20,154.40H50.5M46.20,139.44H50.5M46.20,124.49H50.5M46.20,109.53H50.5M46.20,94.58H50.5M46.20,79.62H50.5M46.20,64.67H50.5M46.20,49.71H50.5M46.20,34.76H50.5M46.20,19.81H50.5M46.20,4.85H50.5M48.20,146.92H50.5M48.20,131.97H50.5M48.20,117.01H50.5M48.20,102.06H50.5M48.20,87.10H50.5M48.20,72.15H50.5M48.20,57.19H50.5M48.20,42.24H50.5M48.20,27.28H50.5M48.20,12.33H50.5M50.50,154.4V157.6M83.31,154.4V157.6M116.12,154.4V157.6M148.94,154.4V157.6M181.75,154.4V157.6M214.56,154.4V157.6M247.38,154.4V157.6M280.19,154.4V157.6M313.00,154.4V157.6M66.91,154.4V156.20000000000002M99.72,154.4V156.20000000000002M132.53,154.4V156.20000000000002M165.34,154.4V156.20000000000002M198.16,154.4V156.20000000000002M230.97,154.4V156.20000000000002M263.78,154.4V156.20000000000002M296.59,154.4V156.20000000000002" stroke="#111" stroke-width="1.3" fill="none"/><rect x="50.5" y="4.85" width="262.30" height="149.55" fill="none" stroke="#111" stroke-width="1.45"/><path d="M54.50,341.40H58.8M54.50,322.66H58.8M54.50,303.92H58.8M54.50,285.19H58.8M54.50,266.45H58.8M54.50,247.71H58.8M54.50,228.97H58.8M54.50,210.24H58.8M54.50,191.50H58.8M56.50,332.03H58.8M56.50,313.29H58.8M56.50,294.56H58.8M56.50,275.82H58.8M56.50,257.08H58.8M56.50,238.34H58.8M56.50,219.61H58.8M56.50,200.87H58.8M58.80,341.4V344.59999999999997M90.61,341.4V344.59999999999997M122.42,341.4V344.59999999999997M154.24,341.4V344.59999999999997M186.05,341.4V344.59999999999997M217.86,341.4V344.59999999999997M249.68,341.4V344.59999999999997M281.49,341.4V344.59999999999997M313.30,341.4V344.59999999999997M74.71,341.4V343.2M106.52,341.4V343.2M138.33,341.4V343.2M170.14,341.4V343.2M201.96,341.4V343.2M233.77,341.4V343.2M265.58,341.4V343.2M297.39,341.4V343.2" stroke="#111" stroke-width="1.3" fill="none"/><rect x="58.8" y="191.5" width="254.60" height="149.90" fill="none" stroke="#111" stroke-width="1.45"/><text transform="translate(36.39,157.90) scale(1.200,1)" font-size="10.0" fill="#1a1a1a">0</text><text transform="translate(36.51,142.94) scale(1.200,1)" font-size="10.0" fill="#1a1a1a">1</text><text transform="translate(36.53,127.99) scale(1.200,1)" font-size="10.0" fill="#1a1a1a">2</text><text transform="translate(36.45,113.03) scale(1.200,1)" font-size="10.0" fill="#1a1a1a">3</text><text transform="translate(36.28,98.08) scale(1.200,1)" font-size="10.0" fill="#1a1a1a">4</text><text transform="translate(36.43,83.12) scale(1.200,1)" font-size="10.0" fill="#1a1a1a">5</text><text transform="translate(36.45,68.17) scale(1.200,1)" font-size="10.0" fill="#1a1a1a">6</text><text transform="translate(36.53,53.21) scale(1.200,1)" font-size="10.0" fill="#1a1a1a">7</text><text transform="translate(36.45,38.26) scale(1.200,1)" font-size="10.0" fill="#1a1a1a">8</text><text transform="translate(36.49,23.31) scale(1.200,1)" font-size="10.0" fill="#1a1a1a">9</text><text transform="translate(29.72,8.35) scale(1.200,1)" font-size="10.0" fill="#1a1a1a">10</text><text transform="translate(35.01,345.20) scale(1.250,1)" font-size="10.0" fill="#1a1a1a">0,0</text><text transform="translate(35.05,326.46) scale(1.250,1)" font-size="10.0" fill="#1a1a1a">0,5</text><text transform="translate(35.01,307.72) scale(1.250,1)" font-size="10.0" fill="#1a1a1a">1,0</text><text transform="translate(35.05,288.99) scale(1.250,1)" font-size="10.0" fill="#1a1a1a">1,5</text><text transform="translate(35.01,270.25) scale(1.250,1)" font-size="10.0" fill="#1a1a1a">2,0</text><text transform="translate(35.05,251.51) scale(1.250,1)" font-size="10.0" fill="#1a1a1a">2,5</text><text transform="translate(35.01,232.78) scale(1.250,1)" font-size="10.0" fill="#1a1a1a">3,0</text><text transform="translate(35.05,214.04) scale(1.250,1)" font-size="10.0" fill="#1a1a1a">3,5</text><text transform="translate(35.01,195.30) scale(1.250,1)" font-size="10.0" fill="#1a1a1a">4,0</text><text transform="translate(47.16,168.00) scale(1.200,1)" font-size="10.0" fill="#1a1a1a">0</text><text transform="translate(55.46,355.00) scale(1.200,1)" font-size="10.0" fill="#1a1a1a">0</text><text transform="translate(73.30,168.00) scale(1.200,1)" font-size="10.0" fill="#1a1a1a">200</text><text transform="translate(80.60,355.00) scale(1.200,1)" font-size="10.0" fill="#1a1a1a">200</text><text transform="translate(106.11,168.00) scale(1.200,1)" font-size="10.0" fill="#1a1a1a">400</text><text transform="translate(112.41,355.00) scale(1.200,1)" font-size="10.0" fill="#1a1a1a">400</text><text transform="translate(138.93,168.00) scale(1.200,1)" font-size="10.0" fill="#1a1a1a">600</text><text transform="translate(144.23,355.00) scale(1.200,1)" font-size="10.0" fill="#1a1a1a">600</text><text transform="translate(171.74,168.00) scale(1.200,1)" font-size="10.0" fill="#1a1a1a">800</text><text transform="translate(176.04,355.00) scale(1.200,1)" font-size="10.0" fill="#1a1a1a">800</text><text transform="translate(201.21,168.00) scale(1.200,1)" font-size="10.0" fill="#1a1a1a">1000</text><text transform="translate(204.51,355.00) scale(1.200,1)" font-size="10.0" fill="#1a1a1a">1000</text><text transform="translate(234.03,168.00) scale(1.200,1)" font-size="10.0" fill="#1a1a1a">1200</text><text transform="translate(236.33,355.00) scale(1.200,1)" font-size="10.0" fill="#1a1a1a">1200</text><text transform="translate(266.84,168.00) scale(1.200,1)" font-size="10.0" fill="#1a1a1a">1400</text><text transform="translate(268.14,355.00) scale(1.200,1)" font-size="10.0" fill="#1a1a1a">1400</text><text transform="translate(299.65,168.00) scale(1.200,1)" font-size="10.0" fill="#1a1a1a">1600</text><text transform="translate(299.95,355.00) scale(1.200,1)" font-size="10.0" fill="#1a1a1a">1600</text><text transform="translate(134.34,179.50) scale(1.288,1)" font-size="10.2" fill="#1a1a1a">energy</text><text transform="translate(179.60,179.50) scale(0.959,1)" font-size="10.2" fill="#1a1a1a">E</text><text transform="translate(187.14,182.70) scale(1.200,1)" font-size="8.2" fill="#1a1a1a">i</text><text transform="translate(194.35,179.50) scale(1.250,1)" font-size="10.2" fill="#1a1a1a">,</text><text transform="translate(202.12,179.50) scale(1.294,1)" font-size="10.2" fill="#1a1a1a">MeV</text><text transform="translate(140.37,366.90) scale(1.230,1)" font-size="10.2" fill="#1a1a1a">energy</text><text transform="translate(183.92,366.90) scale(1.049,1)" font-size="10.2" fill="#1a1a1a">E</text><text transform="translate(191.94,370.10) scale(1.200,1)" font-size="8.2" fill="#1a1a1a">i</text><text transform="translate(199.45,366.90) scale(1.250,1)" font-size="10.2" fill="#1a1a1a">,</text><text transform="translate(206.25,366.90) scale(1.259,1)" font-size="10.2" fill="#1a1a1a">MeV</text><text transform="translate(12.0,141.0) rotate(-90) scale(1,1.2)" font-size="10.5" fill="#1a1a1a" stroke-width="0.08">number of particles dN/dE<tspan font-size="7.8" dy="2.6">i</tspan><tspan dy="-2.6"> ,</tspan></text><text transform="translate(28.9,115.4) rotate(-90) scale(1,1.2)" font-size="10.5" fill="#1a1a1a" stroke-width="0.08">10<tspan font-size="7.6" dy="-4.6">14</tspan><tspan dy="4.6"> cm</tspan><tspan font-size="7.4" dy="-4.6">-1</tspan><tspan dy="4.6">MeV</tspan><tspan font-size="7.4" dy="-4.6">-1</tspan></text><text transform="translate(12.0,330.4) rotate(-90) scale(1,1.2)" font-size="10.5" fill="#1a1a1a" stroke-width="0.08">number of particles dN/dE<tspan font-size="7.8" dy="2.6">i</tspan><tspan dy="-2.6"> ,</tspan></text><text transform="translate(28.9,302.99999999999994) rotate(-90) scale(1,1.2)" font-size="10.5" fill="#1a1a1a" stroke-width="0.08">10<tspan font-size="7.6" dy="-4.6">14</tspan><tspan dy="4.6"> cm</tspan><tspan font-size="7.4" dy="-4.6">-1</tspan><tspan dy="4.6">MeV</tspan><tspan font-size="7.4" dy="-4.6">-1</tspan></text><text transform="translate(52.80,15.70) scale(1.123,1)" font-size="10.5" fill="#1a1a1a" stroke="#1a1a1a" stroke-width="0.01" letter-spacing="1.2">a)</text><text transform="translate(60.51,202.00) scale(1.173,1)" font-size="10.5" fill="#1a1a1a" stroke="#1a1a1a" stroke-width="0.01" letter-spacing="1.2">b)</text><text transform="translate(238.75,15.60) scale(1.286,1)" font-size="10.2" fill="#1a1a1a">d</text><text transform="translate(246.06,18.80) scale(1.350,1)" font-size="7.6" fill="#1a1a1a">ap</text><text transform="translate(263.36,15.60) scale(1.250,1)" font-size="10.2" fill="#1a1a1a">= 50 µm</text><text transform="translate(239.86,30.80) scale(1.200,1)" font-size="10.2" fill="#1a1a1a">x</text><text transform="translate(246.06,34.00) scale(1.350,1)" font-size="7.6" fill="#1a1a1a">ap</text><text transform="translate(263.36,30.80) scale(1.250,1)" font-size="10.2" fill="#1a1a1a">= 50 µm</text><text transform="translate(239.35,202.70) scale(1.286,1)" font-size="10.2" fill="#1a1a1a">d</text><text transform="translate(246.66,205.90) scale(1.350,1)" font-size="7.6" fill="#1a1a1a">ap</text><text transform="translate(263.16,202.70) scale(1.250,1)" font-size="10.2" fill="#1a1a1a">= 50 µm</text><text transform="translate(233.86,218.50) scale(1.200,1)" font-size="10.2" fill="#1a1a1a">x</text><text transform="translate(240.06,221.70) scale(1.350,1)" font-size="7.6" fill="#1a1a1a">ap</text><text transform="translate(256.07,218.50) scale(1.250,1)" font-size="10.2" fill="#1a1a1a">= 500 µm</text><text transform="translate(52.78,59.50) scale(1.110,1)" font-size="11" fill="#2222ff" stroke="#2222ff" stroke-width="0.2" letter-spacing="0.5">curved target</text><text transform="translate(79.43,69.10) scale(1.068,1)" font-size="11" fill="#2222ff" stroke="#2222ff" stroke-width="0.2" letter-spacing="0.5">front</text><text transform="translate(205.28,56.50) scale(1.116,1)" font-size="11" fill="#ff2222" stroke="#ff2222" stroke-width="0.2" letter-spacing="0.5">curved target</text><text transform="translate(231.42,66.10) scale(1.106,1)" font-size="11" fill="#ff2222" stroke="#ff2222" stroke-width="0.2" letter-spacing="0.5">back</text><text transform="translate(245.43,101.70) scale(1.090,1)" font-size="11" fill="#1a1a1a" stroke="#1a1a1a" stroke-width="0.18" letter-spacing="0.5">flat target</text><text transform="translate(64.10,240.70) scale(1.078,1)" font-size="11" fill="#2222ff" stroke="#2222ff" stroke-width="0.2" letter-spacing="0.5">curved target</text><text transform="translate(89.94,250.60) scale(1.014,1)" font-size="11" fill="#2222ff" stroke="#2222ff" stroke-width="0.2" letter-spacing="0.5">front</text><text transform="translate(214.09,255.90) scale(1.083,1)" font-size="11" fill="#ff2222" stroke="#ff2222" stroke-width="0.2" letter-spacing="0.5">curved target</text><text transform="translate(238.93,265.60) scale(1.090,1)" font-size="11" fill="#ff2222" stroke="#ff2222" stroke-width="0.2" letter-spacing="0.5">back</text><text transform="translate(241.73,296.50) scale(1.065,1)" font-size="11" fill="#1a1a1a" stroke="#1a1a1a" stroke-width="0.18" letter-spacing="0.5">flat target</text><polyline points="53,72.7 131.2,72.7 138.9,83.0" fill="none" stroke="#8c8cff" stroke-width="0.9"/><polyline points="289.5,69.2 204.2,69.2 184.8,85.8" fill="none" stroke="#ff9c9c" stroke-width="0.9"/><polyline points="303.6,104.5 243.0,104.5 228.3,122.6" fill="none" stroke="#8a8a8a" stroke-width="0.9"/><polyline points="62.7,254.2 141.7,254.2 145.4,263.2" fill="none" stroke="#8c8cff" stroke-width="0.9"/><polyline points="292.9,268.5 211.8,268.5 194.3,284.6" fill="none" stroke="#ff9c9c" stroke-width="0.9"/><polyline points="298.7,299.4 239.6,299.4 225.4,318.2" fill="none" stroke="#8a8a8a" stroke-width="0.9"/></g></svg></body></html>
